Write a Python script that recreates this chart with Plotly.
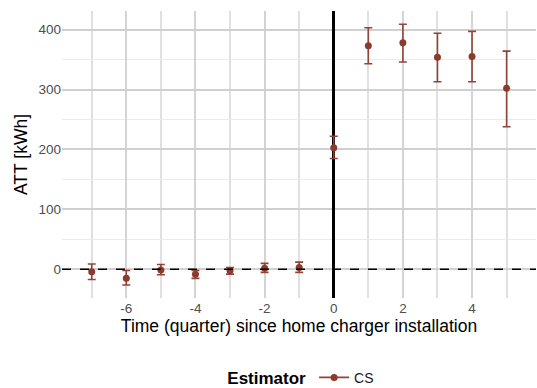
import plotly.graph_objects as go

# Event-study estimates: average treatment effect by quarter relative to installation
quarters = [-7, -6, -5, -4, -3, -2, -1, 0, 1, 2, 3, 4, 5]
att = [-4, -15, -1, -8, -2, 2, 3, 203, 373, 378, 354, 355, 302]
ci_upper = [9, -2, 8, -2, 3, 10, 12, 222, 403, 409, 394, 397, 364]
ci_lower = [-17, -26, -9, -15, -8, -5, -5, 185, 343, 346, 313, 313, 238]
estimator_name = "CS"

x_ticks = [-6, -4, -2, 0, 2, 4]
y_ticks = [0, 100, 200, 300, 400]

point_color = "#8b3a2e"
bar_color = "#93443a"
font_family = "Liberation Sans, Arial, sans-serif"

err_plus = [u - a for u, a in zip(ci_upper, att)]
err_minus = [a - l for a, l in zip(att, ci_lower)]

fig = go.Figure()

fig.add_trace(go.Scatter(
    x=quarters, y=att, mode="markers",
    marker=dict(color=point_color, size=7),
    error_y=dict(type="data", symmetric=False, array=err_plus, arrayminus=err_minus,
                 color=bar_color, thickness=1.6, width=4),
    showlegend=False, cliponaxis=False,
))

# legend key: point with line through it
fig.add_trace(go.Scatter(
    x=[None], y=[None], mode="lines+markers", name=estimator_name,
    line=dict(color=bar_color, width=1.6),
    marker=dict(color=point_color, size=7),
))

# zero-effect reference line
fig.add_hline(y=0, line=dict(color="black", width=1.5, dash="dash"), layer="above")

fig.update_layout(
    width=537, height=388,
    margin=dict(l=62, r=1, t=11, b=90, autoexpand=False),
    plot_bgcolor="white", paper_bgcolor="white",
    font=dict(family=font_family, color="#4d4d4d", size=13),
    showlegend=True,
    legend=dict(
        orientation="h", x=0.507, xanchor="center",
        yref="container", y=0.025, yanchor="middle",
        title=dict(text="<b>Estimator</b>", side="left",
                   font=dict(size=17, color="black", family=font_family)),
        font=dict(size=14, color="#1a1a1a", family=font_family),
        itemwidth=30,
    ),
    xaxis=dict(
        range=[-7.86, 5.85], tickvals=x_ticks, ticktext=[str(v) for v in x_ticks],
        showgrid=True, gridcolor="#d4d4d4", gridwidth=1.8,
        minor=dict(dtick=1, tick0=0, showgrid=True, gridcolor="#e0e0e0", gridwidth=1.5),
        # installation quarter marked by the solid zero line
        zeroline=True, zerolinecolor="black", zerolinewidth=2.5,
        showline=False, ticks="",
        tickfont=dict(size=13.5, color="#4d4d4d"),
        title=dict(text="Time (quarter) since home charger installation",
                   font=dict(size=17.5, color="black"), standoff=5),
    ),
    yaxis=dict(
        range=[-47.8, 431], tickvals=y_ticks, ticktext=[str(v) for v in y_ticks],
        showgrid=True, gridcolor="#d0d0d0", gridwidth=1.8,
        minor=dict(dtick=50, tick0=0, showgrid=True, gridcolor="#ebebeb", gridwidth=1),
        zeroline=False, showline=False, ticks="",
        tickfont=dict(size=13.5, color="#4d4d4d"),
        title=dict(text="ATT [kWh]", font=dict(size=17.5, color="black"), standoff=6),
    ),
)

fig.write_html("out.html")
